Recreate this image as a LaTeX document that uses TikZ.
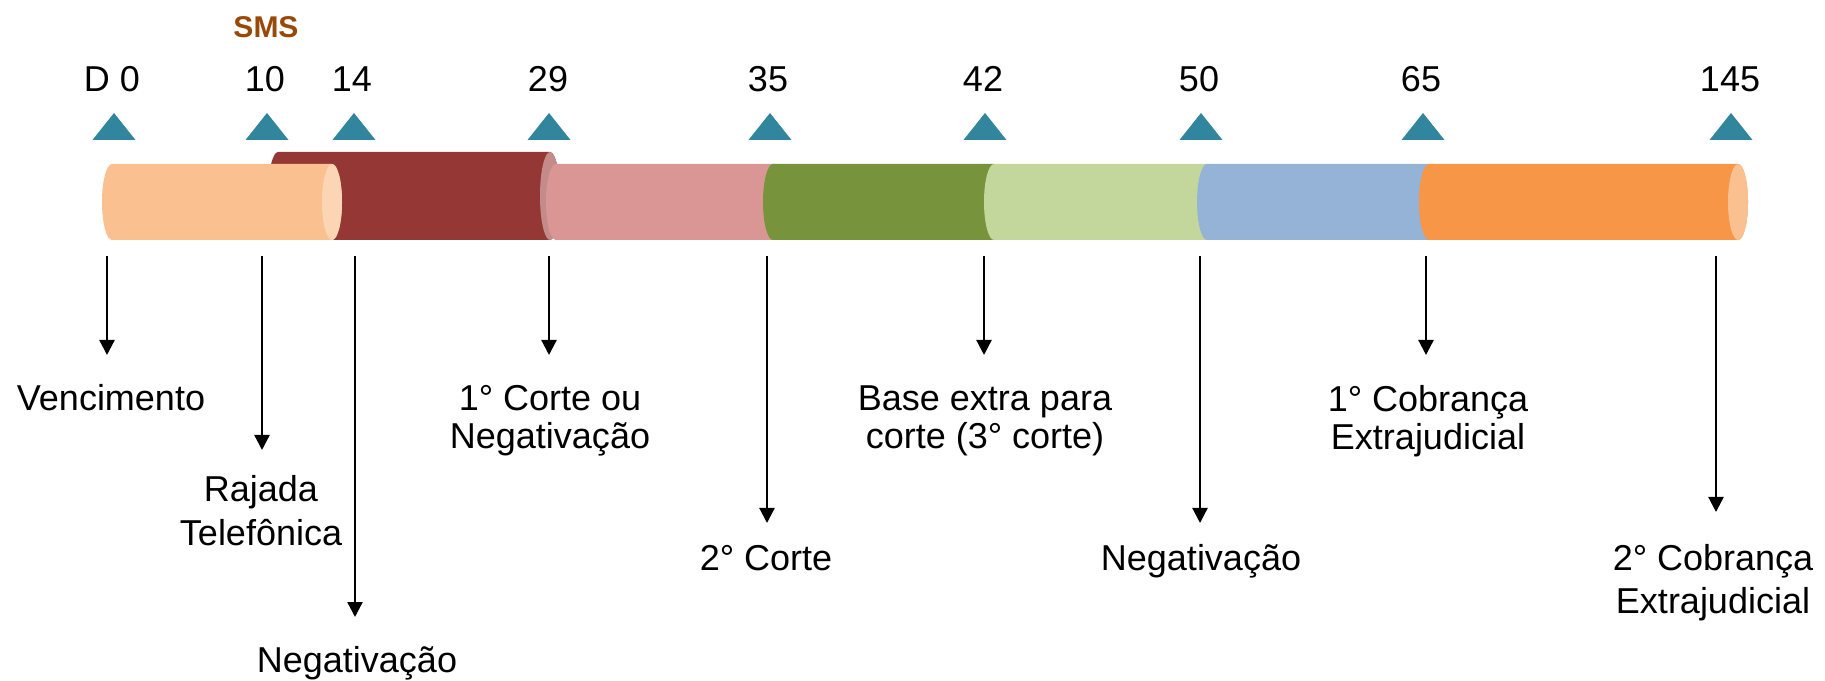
\documentclass[tikz,border=0pt]{standalone}
\usepackage{fontspec}
\setmainfont{Liberation Sans}
\usetikzlibrary{arrows.meta}
\definecolor{cpeach}{HTML}{FAC090}
\definecolor{cpeachface}{HTML}{FCD5B5}
\definecolor{cred}{HTML}{953735}
\definecolor{credface}{HTML}{C38B8A}
\definecolor{cpink}{HTML}{D99694}
\definecolor{cgreen}{HTML}{77933C}
\definecolor{clgreen}{HTML}{C3D69B}
\definecolor{cblue}{HTML}{95B3D7}
\definecolor{corange}{HTML}{F79646}
\definecolor{corangeface}{HTML}{FAC090}
\definecolor{cteal}{HTML}{31859C}
\definecolor{csms}{HTML}{984807}
\newcommand\cylseg[5]{%
  \fill[#5] (#2,#3+#4) -- (#1,#3+#4) arc[start angle=90,end angle=270,x radius=10,y radius=#4]
    -- (#2,#3-#4) arc[start angle=-90,end angle=90,x radius=10,y radius=#4] -- cycle;}
\newcommand\cylface[4]{\fill[#4] (#1,#2) ellipse[x radius=10,y radius=#3];}
\begin{document}
\begin{tikzpicture}[x=0.5pt,y=0.5pt,
  lbl/.style={font=\fontsize{18}{19}\selectfont, align=center, inner sep=0pt, anchor=base},
  num/.style={font=\fontsize{18}{21.6}\selectfont, inner sep=0pt, anchor=base},
  arr/.style={line width=1.15pt, -{Triangle[width=7.5pt,length=7.5pt]}},
  tmark/.style={fill=cteal}]
\useasboundingbox (0,0) rectangle (1825,680);
% cylinder segments
\cylseg{278}{550}{484}{44}{cred}
\cylface{550}{484}{44}{credface}
\cylseg{112}{332}{478}{38}{cpeach}
\cylface{332}{478}{38}{cpeachface}
\cylseg{556}{775}{478}{38}{cpink}
\cylseg{773}{994}{478}{38}{cgreen}
\cylseg{994}{1209}{478}{38}{clgreen}
\cylseg{1207}{1429}{478}{38}{cblue}
\cylseg{1429}{1738}{478}{38}{corange}
\cylface{1738}{478}{38}{corangeface}
% triangles
\foreach \x in {114,267,354,549,770,985,1201,1423,1731}
  \fill[tmark] (\x-21.5,540) -- (\x+21.5,540) -- (\x,567) -- cycle;
% numbers
\node[num] (n0) at (112,588) {D 0};
\node[num] (n1) at (265,588) {10};
\node[num] (n2) at (352,588) {14};
\node[num] (n3) at (548,588) {29};
\node[num] (n4) at (768,588) {35};
\node[num] (n5) at (983,588) {42};
\node[num] (n6) at (1199,588) {50};
\node[num] (n7) at (1421,588) {65};
\node[num] (n8) at (1730,588) {145};
\node[font=\fontsize{15}{18}\selectfont\bfseries, text=csms, inner sep=0pt, anchor=base] (sms) at (266,642) {SMS};
% labels (anchor = baseline of last line)
\node[lbl] (l0) at (111,269) {Vencimento};
\node[lbl, font=\fontsize{18}{22}\selectfont] (l1) at (261,134) {Rajada\\Telefônica};
\node[lbl] (l2) at (357,8) {Negativação};
\node[lbl] (l3) at (550,231) {1° Corte ou\\Negativação};
\node[lbl] (l4) at (766,110) {2° Corte};
\node[lbl] (l5) at (985,231) {Base extra para\\corte (3° corte)};
\node[lbl] (l6) at (1201,110) {Negativação};
\node[lbl] (l7) at (1428,230) {1° Cobrança\\Extrajudicial};
\node[lbl, font=\fontsize{18}{21.5}\selectfont] (l8) at (1713,67) {2° Cobrança\\Extrajudicial};
% arrows
\foreach \i/\x/\y in {0/107/325,1/262/230,2/355/63,3/549/325,4/767/157,5/984/325,6/1200/157,7/1426/325,8/1716/168}{
  \coordinate (s\i) at (\x,424);
  \coordinate (e\i) at (\x,\y);
  \draw[arr] (s\i) -- (e\i);
}
\end{tikzpicture}
\end{document}
